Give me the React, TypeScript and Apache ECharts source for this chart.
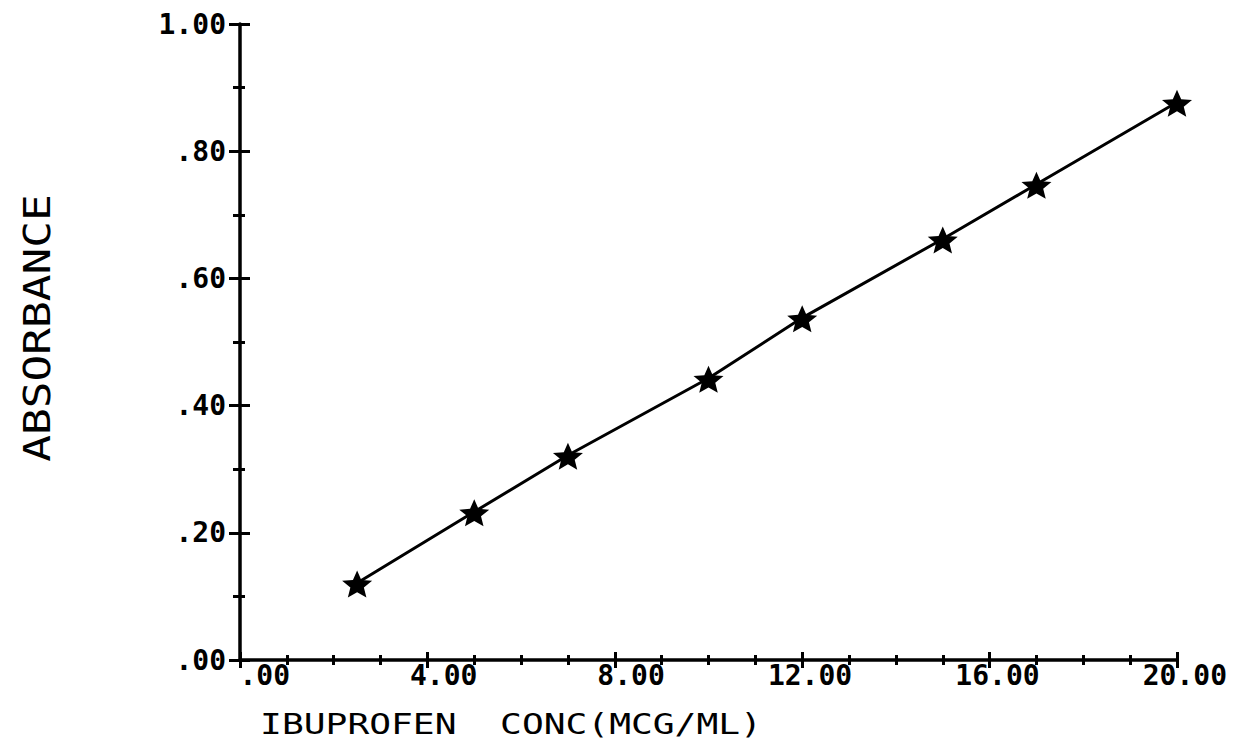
import React, { useEffect, useRef } from 'react';
import * as echarts from 'echarts';

const concentration = [2.5, 5, 7, 10, 12, 15, 17, 20];
const absorbance = [0.121, 0.233, 0.322, 0.443, 0.538, 0.662, 0.748, 0.877];
const xTickLabels = ['.00', '4.00', '8.00', '12.00', '16.00', '20.00'];
const yTickLabels = ['.00', '.20', '.40', '.60', '.80', '1.00'];
const xTitle = 'IBUPROFEN  CONC(MCG/ML)';
const yTitle = 'ABSORBANCE';

const STAR =
  'path://M50,0 L63.23,31.8 L97.55,34.55 L71.4,56.95 L79.39,90.45 L50,72.5 L20.61,90.45 L28.6,56.95 L2.45,34.55 L36.77,31.8 Z';

const FONT = 'DejaVu Sans Mono';
const BLACK = '#000';

export default function App() {
  const ref = useRef<HTMLDivElement>(null);

  useEffect(() => {
    if (!ref.current) return;
    const chart = echarts.init(ref.current, null, { renderer: 'svg' });

    const tickStyle = { color: BLACK, width: 3 };
    const xBase = {
      type: 'value',
      min: 0,
      max: 20,
      interval: 4,
      position: 'bottom',
      splitLine: { show: false },
      minorSplitLine: { show: false },
    };
    const yBase = {
      type: 'value',
      min: 0,
      max: 1,
      interval: 0.2,
      position: 'left',
      splitLine: { show: false },
      minorSplitLine: { show: false },
    };

    const option: any = {
      animation: false,
      backgroundColor: '#fff',
      grid: {
        left: 240,
        top: 24,
        width: 937,
        height: 636,
        containLabel: false,
        outerBoundsMode: 'none',
      },
      xAxis: [
        {
          ...xBase,
          axisLine: { show: true, onZero: false, lineStyle: { color: BLACK, width: 3.5 } },
          axisTick: { show: true, inside: false, length: 8, lineStyle: tickStyle },
          minorTick: { show: true, splitNumber: 4, length: 5, lineStyle: tickStyle },
          axisLabel: {
            margin: 1,
            formatter: (v: number) => `{a|${xTickLabels[Math.round(v / 4)]}}`,
            rich: {
              a: {
                width: 100,
                align: 'right',
                fontFamily: FONT,
                fontWeight: 'bold',
                fontSize: 28,
                color: BLACK,
              },
            },
          },
        },
        {
          ...xBase,
          axisLine: { show: false, onZero: false },
          axisTick: { show: true, inside: true, length: 8, lineStyle: tickStyle },
          minorTick: { show: true, splitNumber: 4, length: 5, lineStyle: tickStyle },
          axisLabel: { show: false },
        },
      ],
      yAxis: [
        {
          ...yBase,
          axisLine: { show: true, onZero: false, lineStyle: { color: BLACK, width: 3.5 } },
          axisTick: { show: true, inside: false, length: 11, lineStyle: tickStyle },
          minorTick: { show: true, splitNumber: 2, length: 7, lineStyle: tickStyle },
          axisLabel: {
            margin: 14,
            formatter: (v: number) => yTickLabels[Math.round(v / 0.2)],
            fontFamily: FONT,
            fontWeight: 'bold',
            fontSize: 28,
            color: BLACK,
          },
        },
        {
          ...yBase,
          axisLine: { show: false, onZero: false },
          axisTick: { show: true, inside: true, length: 10, lineStyle: tickStyle },
          minorTick: { show: true, splitNumber: 2, length: 5, lineStyle: tickStyle },
          axisLabel: { show: false },
        },
      ],
      series: [
        {
          type: 'line',
          xAxisIndex: 0,
          yAxisIndex: 0,
          data: concentration.map((c, i) => [c, absorbance[i]]),
          symbol: STAR,
          symbolSize: [30, 27],
          symbolOffset: [0, 1],
          showAllSymbol: true,
          lineStyle: { color: BLACK, width: 3 },
          itemStyle: { color: BLACK, borderWidth: 0 },
          z: 5,
        },
      ],
      graphic: [
        {
          type: 'text',
          x: 511,
          y: 724,
          scaleX: 1.25,
          style: {
            text: xTitle,
            font: `29px "${FONT}"`,
            fill: BLACK,
            textAlign: 'center',
            textVerticalAlign: 'middle',
          },
        },
        {
          type: 'text',
          x: 37,
          y: 328,
          rotation: Math.PI / 2,
          scaleX: 1.2,
          style: {
            text: yTitle,
            font: `37px "${FONT}"`,
            fill: BLACK,
            textAlign: 'center',
            textVerticalAlign: 'middle',
          },
        },
      ],
    };

    chart.setOption(option);
    return () => chart.dispose();
  }, []);

  return (
    <div
      ref={ref}
      style={{ position: 'fixed', left: 0, top: 0, width: 1238, height: 749, background: '#fff' }}
    />
  );
}
